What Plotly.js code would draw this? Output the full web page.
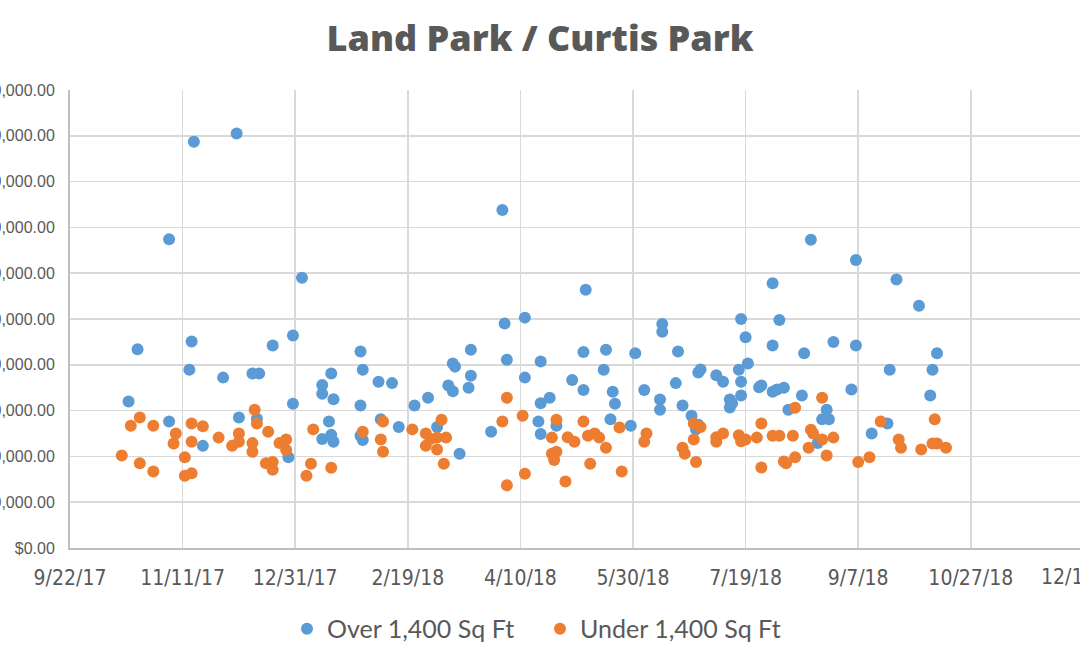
<!DOCTYPE html>
<html>
<head>
<meta charset="utf-8">
<script src="https://cdn.plot.ly/plotly-3.0.1.min.js"></script>
<style>
  html, body { margin: 0; padding: 0; background: #fff; }
  #chart { width: 1080px; height: 666px; }
</style>
</head>
<body>
<div id="chart"></div>
<script>
// Sale date and price, homes over 1,400 sq ft
const overDates = [
  '2017-10-18', '2017-10-22', '2017-11-05', '2017-11-05', '2017-11-14', '2017-11-15', '2017-11-16', '2017-11-20',
  '2017-11-29', '2017-12-05', '2017-12-06', '2017-12-12', '2017-12-15', '2017-12-14', '2017-12-21', '2017-12-30',
  '2017-12-30', '2017-12-28', '2018-01-03', '2018-01-12', '2018-01-12', '2018-01-16', '2018-01-17', '2018-01-15',
  '2018-01-12', '2018-01-16', '2018-01-17', '2018-01-29', '2018-01-30', '2018-02-06', '2018-02-12', '2018-01-29',
  '2018-01-29', '2018-01-30', '2018-02-07', '2018-02-15', '2018-02-22', '2018-02-28', '2018-03-04', '2018-03-09',
  '2018-03-11', '2018-03-11', '2018-03-12', '2018-03-19', '2018-03-19', '2018-03-18', '2018-03-14', '2018-03-28',
  '2018-04-02', '2018-04-03', '2018-04-04', '2018-04-12', '2018-04-12', '2018-04-19', '2018-04-18', '2018-04-19',
  '2018-04-23', '2018-04-19', '2018-04-26', '2018-05-03', '2018-05-08', '2018-05-09', '2018-05-08', '2018-05-18',
  '2018-05-17', '2018-05-21', '2018-05-22', '2018-05-20', '2018-05-29', '2018-05-31', '2018-06-04', '2018-06-12',
  '2018-06-12', '2018-06-11', '2018-06-11', '2018-06-19', '2018-06-18', '2018-06-21', '2018-06-25', '2018-06-28',
  '2018-06-27', '2018-06-29', '2018-06-28', '2018-07-06', '2018-07-09', '2018-07-12', '2018-07-12', '2018-07-13',
  '2018-07-17', '2018-07-19', '2018-07-16', '2018-07-20', '2018-07-17', '2018-07-17', '2018-07-25', '2018-07-26',
  '2018-07-31', '2018-08-03', '2018-07-31', '2018-07-31', '2018-08-02', '2018-08-05', '2018-08-07', '2018-08-13',
  '2018-08-14', '2018-08-17', '2018-08-24', '2018-08-22', '2018-08-25', '2018-08-20', '2018-08-27', '2018-09-04',
  '2018-09-06', '2018-09-06', '2018-09-13', '2018-09-20', '2018-09-21', '2018-09-24', '2018-10-04', '2018-10-10',
  '2018-10-09', '2018-10-12'
];
const overPrices = [
  320000, 434000, 674000, 276000, 389000, 451000, 887000, 223000,
  372000, 905000, 285000, 381000, 381000, 282000, 442000, 464000,
  315000, 198000, 590000, 356000, 337000, 381000, 325000, 276000,
  238000, 247000, 232000, 429000, 389000, 363000, 360000, 311000,
  245000, 236000, 281000, 264000, 311000, 328000, 264000, 355000,
  342000, 403000, 396000, 433000, 376000, 350000, 206000, 254000,
  738000, 490000, 411000, 503000, 372000, 407000, 276000, 316000,
  328000, 249000, 267000, 367000, 428000, 564000, 345000, 433000,
  389000, 341000, 315000, 281000, 267000, 425000, 345000, 489000,
  472000, 324000, 302000, 429000, 360000, 311000, 289000, 269000,
  259000, 390000, 383000, 377000, 363000, 324000, 307000, 316000,
  500000, 460000, 389000, 403000, 363000, 333000, 351000, 355000,
  578000, 498000, 442000, 341000, 346000, 350000, 302000, 333000,
  425000, 673000, 302000, 281000, 281000, 229000, 450000, 346000,
  629000, 442000, 250000, 272000, 389000, 586000, 529000, 389000,
  333000, 425000
];

// Sale date and price, homes under 1,400 sq ft
const underDates = [
  '2017-10-15', '2017-10-19', '2017-10-23', '2017-10-23', '2017-10-29', '2017-10-29', '2017-11-08', '2017-11-07',
  '2017-11-12', '2017-11-12', '2017-11-15', '2017-11-15', '2017-11-20', '2017-11-15', '2017-11-27', '2017-12-03',
  '2017-12-06', '2017-12-06', '2017-12-13', '2017-12-14', '2017-12-12', '2017-12-12', '2017-12-19', '2017-12-18',
  '2017-12-21', '2017-12-21', '2017-12-24', '2017-12-27', '2017-12-27', '2018-01-07', '2018-01-05', '2018-01-08',
  '2018-01-16', '2018-01-30', '2018-02-07', '2018-02-08', '2018-02-08', '2018-02-21', '2018-02-27', '2018-03-01',
  '2018-02-27', '2018-03-04', '2018-03-08', '2018-03-04', '2018-03-06', '2018-03-07', '2018-04-02', '2018-04-04',
  '2018-04-04', '2018-04-11', '2018-04-12', '2018-04-24', '2018-04-26', '2018-04-24', '2018-04-26', '2018-04-25',
  '2018-04-30', '2018-05-01', '2018-05-04', '2018-05-08', '2018-05-10', '2018-05-13', '2018-05-15', '2018-05-11',
  '2018-05-18', '2018-05-24', '2018-05-25', '2018-06-05', '2018-06-04', '2018-06-21', '2018-06-22', '2018-06-26',
  '2018-06-29', '2018-06-26', '2018-06-27', '2018-07-06', '2018-07-06', '2018-07-09', '2018-07-16', '2018-07-17',
  '2018-07-19', '2018-07-26', '2018-07-24', '2018-07-26', '2018-07-31', '2018-08-03', '2018-08-06', '2018-08-05',
  '2018-08-10', '2018-08-09', '2018-08-10', '2018-08-22', '2018-08-17', '2018-08-18', '2018-08-22', '2018-08-16',
  '2018-08-24', '2018-08-27', '2018-09-07', '2018-09-12', '2018-09-17', '2018-09-25', '2018-09-26', '2018-10-05',
  '2018-10-11', '2018-10-10', '2018-10-12', '2018-10-16'
];
const underPrices = [
  202000, 267000, 285000, 185000, 267000, 167000, 250000, 228000,
  198000, 158000, 163000, 272000, 266000, 232000, 241000, 223000,
  232000, 250000, 302000, 272000, 229000, 210000, 254000, 185000,
  188000, 171000, 229000, 237000, 214000, 184000, 158000, 259000,
  175000, 254000, 237000, 210000, 276000, 259000, 250000, 238000,
  223000, 241000, 241000, 215000, 280000, 184000, 276000, 328000,
  137000, 289000, 162000, 241000, 280000, 206000, 210000, 192000,
  145000, 242000, 232000, 276000, 245000, 250000, 241000, 184000,
  219000, 263000, 167000, 250000, 232000, 219000, 206000, 272000,
  264000, 237000, 188000, 242000, 232000, 250000, 246000, 233000,
  237000, 272000, 241000, 176000, 245000, 245000, 185000, 189000,
  198000, 245000, 306000, 328000, 258000, 250000, 237000, 219000,
  202000, 241000, 188000, 198000, 276000, 237000, 219000, 215000,
  281000, 228000, 228000, 219000
];

const seriesNames = ['Over 1,400 Sq Ft', 'Under 1,400 Sq Ft'];
const seriesColors = ['#5B9BD5', '#ED7D31'];

// Excel-style date axis: 50-day major unit from 9/22/17
const xStart = '2017-09-22';
const xEnd = '2018-12-14 12:00';
const xLastTick = '2018-12-16';
const dayMs = 86400000;

const grey = '#595959';
const tickFamily = '"Liberation Sans Narrow", "Arial Narrow", "DejaVu Sans Condensed", sans-serif';

const traces = [
  {
    type: 'scatter', mode: 'markers', name: seriesNames[0],
    x: overDates, y: overPrices,
    marker: { color: seriesColors[0], size: 12 }
  },
  {
    type: 'scatter', mode: 'markers', name: seriesNames[1],
    x: underDates, y: underPrices,
    marker: { color: seriesColors[1], size: 12 }
  }
];

// the axis runs on past the right edge, so its last label is cut off there
const t0 = new Date(xStart + 'T00:00:00').getTime();
const t1 = new Date(xEnd.replace(' ', 'T') + ':00').getTime();
const tl = new Date(xLastTick + 'T00:00:00').getTime();
const lastFrac = (tl - t0) / (t1 - t0);

Plotly.newPlot('chart', traces, {
  width: 1080,
  height: 666,
  margin: { l: 70, r: 0, t: 90, b: 118 },
  paper_bgcolor: 'white',
  plot_bgcolor: 'white',
  title: {
    text: 'Land Park / Curtis Park',
    x: 0.5, xref: 'container', xanchor: 'center',
    y: 0.943, yref: 'container', yanchor: 'middle',
    font: { family: '"Open Sans", Lato, sans-serif', size: 36, weight: 800, color: grey }
  },
  xaxis: {
    type: 'date',
    range: [xStart, xEnd],
    tickmode: 'linear',
    tick0: xStart,
    dtick: 50 * dayMs,
    tickformat: '%-m/%-d/%y',
    showgrid: true, gridcolor: '#d9d9d9', gridwidth: 1.5,
    showline: true, linecolor: '#bfbfbf', linewidth: 2,
    zeroline: false,
    ticks: '',
    ticklabelstandoff: 10,
    tickfont: { family: tickFamily, size: 21, color: grey }
  },
  yaxis: {
    range: [0, 1000000],
    tickmode: 'linear', tick0: 0, dtick: 100000,
    tickformat: '$,.2f',
    showgrid: true, gridcolor: '#d9d9d9', gridwidth: 1.5,
    showline: true, linecolor: '#bfbfbf', linewidth: 2,
    zeroline: false,
    ticks: '',
    ticklabelstandoff: 10,
    tickfont: { family: '"Liberation Sans", Arial, sans-serif', size: 16, color: grey }
  },
  showlegend: true,
  legend: {
    orientation: 'h',
    x: 0.5, xanchor: 'center', xref: 'container',
    y: 0.0556, yref: 'container', yanchor: 'middle',
    entrywidth: 208,
    font: { family: 'Lato, "Open Sans", sans-serif', size: 25, color: grey },
    itemsizing: 'constant'
  },
  annotations: [{
    xref: 'paper', yref: 'paper',
    x: lastFrac, y: 0, yshift: -29,
    xanchor: 'center', yanchor: 'middle',
    text: '12/16/18', showarrow: false,
    font: { family: tickFamily, size: 21, color: grey }
  }]
}, { displayModeBar: false, staticPlot: true });
</script>
</body>
</html>
